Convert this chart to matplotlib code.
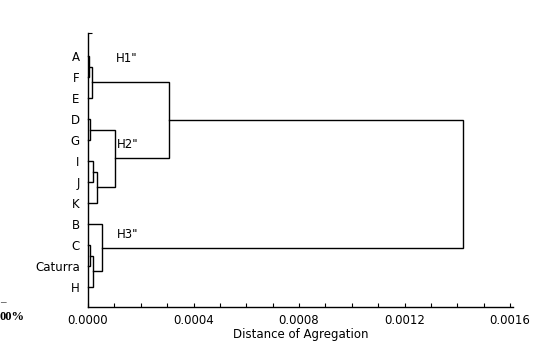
import numpy as np
import matplotlib
matplotlib.use("Agg")
import matplotlib.pyplot as plt
from matplotlib.ticker import MultipleLocator, FormatStrFormatter


# leaves, top to bottom
leaves = ["A", "F", "E", "D", "G", "I", "J", "K", "B", "C", "Caturra", "H"]

# merges: left child, right child, new cluster, distance
merge_left = ["A", "AF", "D", "I", "IJ", "DG", "C", "CCat", "B", "AFE", "H12"]
merge_right = ["F", "E", "G", "J", "K", "IJK", "Caturra", "H", "CCatH", "H2", "H3"]
merge_name = ["AF", "AFE", "DG", "IJ", "IJK", "H2", "CCat", "CCatH", "H3", "H12", "root"]
merge_dist = [0.000004, 0.000014, 0.0000075, 0.00002, 0.000033, 0.000102,
              0.0000075, 0.00002, 0.000054, 0.000306, 0.001423]

group_labels = ['H1"', 'H2"', 'H3"']


def main():
    plt.rcParams["font.family"] = "DejaVu Sans"
    fig = plt.figure(figsize=(5.47, 3.5), dpi=100)
    ax = fig.add_axes([88 / 547, 43 / 350, 425 / 547, 274 / 350])

    # node positions: x = merge distance, y = leaf row
    pos = {name: (0.0, i) for i, name in enumerate(leaves)}
    for l, r, n, d in zip(merge_left, merge_right, merge_name, merge_dist):
        xl, yl = pos[l]
        xr, yr = pos[r]
        ax.plot([xl, d, d, xr], [yl, yl, yr, yr], color="black", lw=1.0,
                solid_joinstyle="miter", clip_on=False)
        pos[n] = (d, (yl + yr) / 2)

    ax.set_xlim(0, 0.001611)
    ax.set_ylim(11.95, -1.1)

    ax.set_yticks(range(len(leaves)))
    ax.set_yticklabels(leaves, fontsize=8.5)
    ax.set_yticks([-1.1], minor=True)
    ax.tick_params(axis="y", which="major", length=0, pad=6)
    ax.tick_params(axis="y", which="minor", direction="in", length=3, width=0.8)

    ax.xaxis.set_major_locator(MultipleLocator(0.0004))
    ax.xaxis.set_minor_locator(MultipleLocator(0.0001))
    ax.xaxis.set_major_formatter(FormatStrFormatter("%.4f"))
    ax.tick_params(axis="x", which="both", direction="in", length=3, width=0.8,
                   labelsize=8.5, pad=5)
    ax.set_xlabel("Distance of Agregation", fontsize=8.5, labelpad=1)

    for s in ["top", "right"]:
        ax.spines[s].set_visible(False)
    for s in ["left", "bottom"]:
        ax.spines[s].set_linewidth(1.0)

    ax.text(0.000106, 0.1, group_labels[0], fontsize=8.5, va="center")
    ax.text(0.00011, 4.2, group_labels[1], fontsize=8.5, va="center")
    ax.text(0.00011, 8.5, group_labels[2], fontsize=8.5, va="center")

    # remains of a neighbouring figure at the left edge
    fig.text(0.0, 45 / 350, "\u2013", fontsize=8, family="Liberation Serif")
    fig.text(0.0, 33 / 350, "00%", fontsize=9, family="Liberation Serif",
             fontweight="bold", va="center")

    fig.savefig("out.png", dpi=100)


if __name__ == "__main__":
    main()
